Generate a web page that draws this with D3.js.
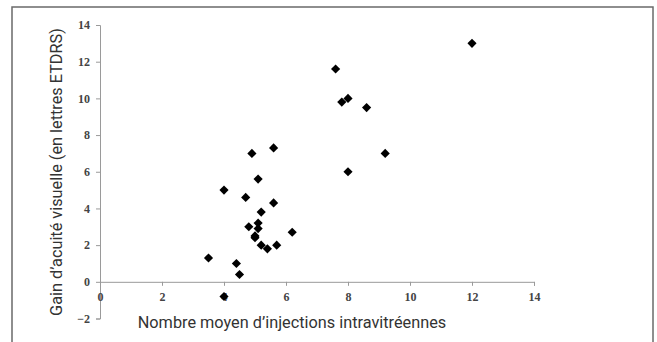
<!DOCTYPE html>
<html>
<head>
<meta charset="utf-8">
<script src="https://cdn.jsdelivr.net/npm/d3@7"></script>
<style>
  body { margin: 0; background: #fff; }
  .axis path, .axis line { stroke: #9a9a9a; }
  .axis text { font-family: "Liberation Serif", serif; font-weight: bold; font-size: 12px; fill: #444; }
  .title { font-family: Roboto, sans-serif; font-size: 16.3px; fill: #333; }
</style>
</head>
<body>
<svg id="chart"></svg>
<script>
// mean number of injections (x) vs visual acuity gain in ETDRS letters (y)
const injections = [3.5, 4.0, 4.4, 4.5, 4.8, 5.0, 5.0, 5.1, 5.1, 5.2, 5.4, 5.7, 6.2,
                    4.0, 4.7, 5.6, 5.2, 5.1, 4.9, 5.6, 7.6, 7.8, 8.0, 8.6, 8.0, 9.2, 12.0];
const gains      = [1.3, -0.8, 1.0, 0.4, 3.0, 2.5, 2.4, 2.9, 3.2, 2.0, 1.8, 2.0, 2.7,
                    5.0, 4.6, 4.3, 3.8, 5.6, 7.0, 7.3, 11.6, 9.8, 10.0, 9.5, 6.0, 7.0, 13.0];
const xTicks = [0, 2, 4, 6, 8, 10, 12, 14];
const yTicks = [-2, 0, 2, 4, 6, 8, 10, 12, 14];
const xLabel = "Nombre moyen d\u2019injections intravitr\u00e9ennes";
const yLabel = "Gain d\u2019acuit\u00e9 visuelle (en lettres ETDRS)";

const W = 657, H = 342;
const svg = d3.select("#chart").attr("width", W).attr("height", H);

// outer frame (open at the bottom of the picture)
svg.append("rect")
  .attr("x", 12).attr("y", 7)
  .attr("width", 641).attr("height", 400)
  .attr("fill", "none").attr("stroke", "#6a6a6a").attr("stroke-width", 1.5);

const x = d3.scaleLinear().domain([0, 14]).range([100, 534]);
const y = d3.scaleLinear().domain([-2, 14]).range([318.5, 25]);

const gY = svg.append("g")
  .attr("class", "axis")
  .attr("transform", "translate(" + x(0) + ",0)")
  .call(d3.axisLeft(y).tickValues(yTicks).tickSizeOuter(0).tickSize(4).tickPadding(6));

const gX = svg.append("g")
  .attr("class", "axis")
  .attr("transform", "translate(0," + y(0) + ")")
  .call(d3.axisBottom(x).tickValues(xTicks).tickSizeOuter(0).tickSize(4).tickPadding(7));

// x ticks sit on the domain line, 0 tick is hidden under the y axis
gX.selectAll(".tick line").attr("y1", 0);

const diamond = d3.symbol().type(d3.symbolSquare).size(42);
svg.append("g").selectAll("path")
  .data(injections.map((v, i) => [v, gains[i]]))
  .enter()
  .append("path")
  .attr("d", diamond)
  .attr("transform", d => "translate(" + x(d[0]) + "," + y(d[1]) + ") rotate(45)")
  .attr("fill", "#000");

svg.append("text")
  .attr("class", "title")
  .attr("x", 292).attr("y", 328)
  .attr("text-anchor", "middle")
  .text(xLabel);

svg.append("text")
  .attr("class", "title")
  .attr("transform", "translate(62,172) rotate(-90)")
  .attr("text-anchor", "middle")
  .text(yLabel);
</script>
</body>
</html>
